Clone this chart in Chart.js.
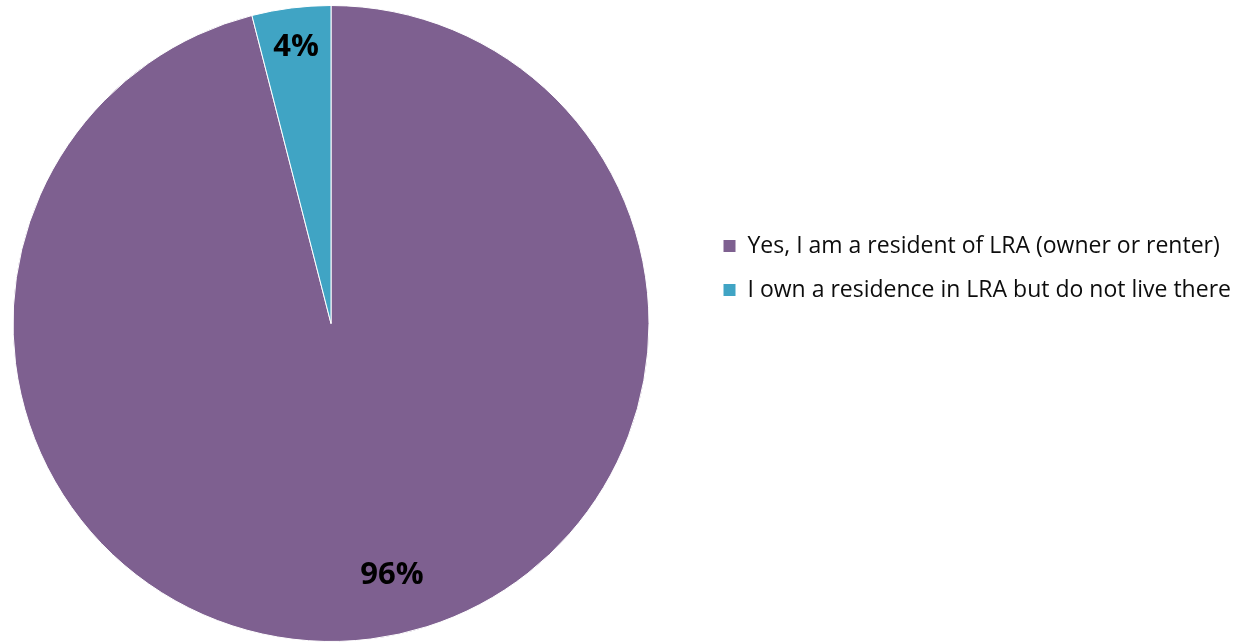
<!DOCTYPE html>
<html>
<head>
<meta charset="utf-8">
<script src="https://cdn.jsdelivr.net/npm/chart.js@4/dist/chart.umd.min.js"></script>
<style>
  html, body { margin: 0; padding: 0; background: #ffffff; }
  #wrap { width: 1252px; height: 643px; position: relative; }
</style>
</head>
<body>
<div id="wrap"><canvas id="pie"></canvas></div>
<script>
// Survey answers and their shares (percent)
const categories = [
  'Yes, I am a resident of LRA (owner or renter)',
  'I own a residence in LRA but do not live there'
];
const shares = [96, 4];
const sliceColors = ['#7e6090', '#40a4c4'];

// Where each percentage sits inside its slice: angle measured clockwise
// from 12 o'clock (null = middle of the slice) and fraction of the radius.
const labelSpots = [
  { angle: 166.4, radius: 0.815 },
  { angle: null, radius: 0.875 }
];

const sliceLabels = {
  id: 'sliceLabels',
  afterDatasetsDraw(chart) {
    const ctx = chart.ctx;
    const meta = chart.getDatasetMeta(0);
    ctx.save();
    ctx.font = 'bold 31px "Open Sans", sans-serif';
    ctx.fillStyle = '#000000';
    ctx.textAlign = 'center';
    ctx.textBaseline = 'middle';
    meta.data.forEach((arc, i) => {
      const { x, y, startAngle, endAngle, outerRadius } = arc.getProps(
        ['x', 'y', 'startAngle', 'endAngle', 'outerRadius'], true);
      const spot = labelSpots[i];
      const a = spot.angle === null
        ? (startAngle + endAngle) / 2
        : -Math.PI / 2 + spot.angle * Math.PI / 180;
      const r = outerRadius * spot.radius;
      ctx.fillText(shares[i] + '%', x + Math.cos(a) * r, y + Math.sin(a) * r);
    });
    ctx.restore();
  }
};

// The pie fills a 662px-wide area; the legend column is nudged to the right
// of that area so there is a gap between the pie and the legend.
const pieAreaWidth = 662;
const legendLeft = 702;
const legendGap = {
  id: 'legendGap',
  afterLayout(chart) {
    const lg = chart.legend;
    const dx = legendLeft - lg.left;
    lg.left += dx;
    lg.right += dx;
  }
};

const chart = new Chart(document.getElementById('pie'), {
  type: 'pie',
  data: {
    labels: categories,
    datasets: [{
      data: shares,
      backgroundColor: sliceColors,
      borderColor: '#ffffff',
      borderWidth: 1
    }]
  },
  options: {
    responsive: true,
    maintainAspectRatio: false,
    animation: false,
    layout: { padding: { left: 0, top: 5, bottom: 1, right: 0 } },
    plugins: {
      tooltip: { enabled: false },
      legend: {
        position: 'right',
        align: 'start',
        title: { display: true, text: '', font: { size: 10 }, padding: { top: 0, bottom: 196.5 } },
        labels: {
          boxWidth: 13,
          boxHeight: 13,
          padding: 21,
          color: '#0d0d0d',
          font: { family: '"Open Sans"', size: 23 }
        }
      }
    }
  },
  plugins: [sliceLabels, legendGap]
});

// Size the right padding so the pie area ends where the legend column begins
chart.options.layout.padding.right = 1252 - pieAreaWidth - chart.legend.width;
chart.update('none');
</script>
</body>
</html>
